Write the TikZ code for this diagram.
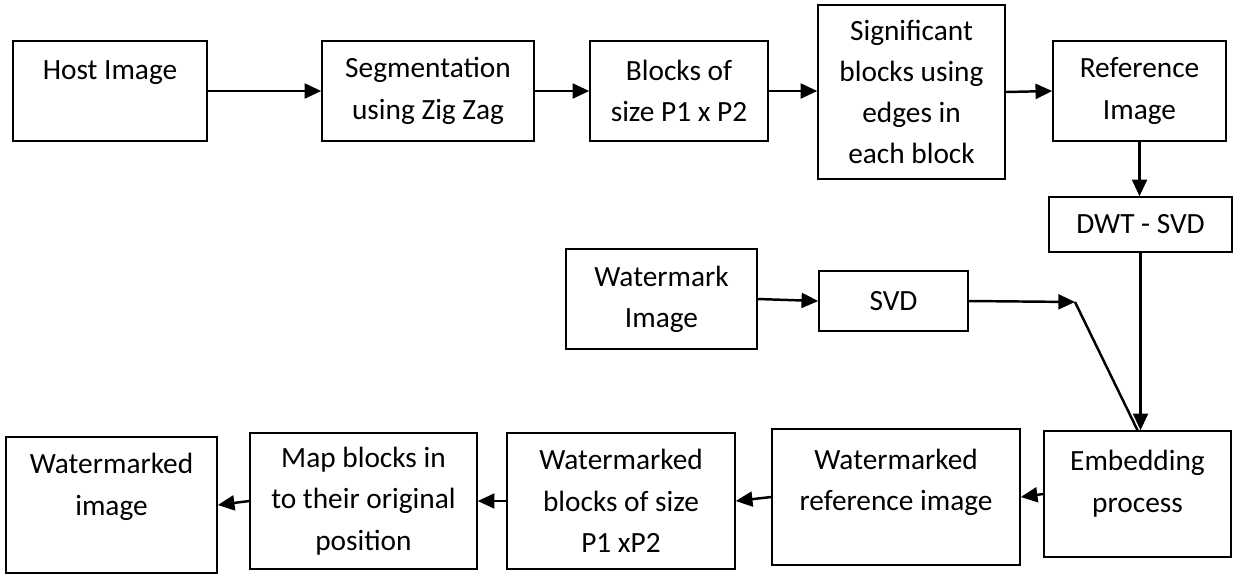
\documentclass[tikz,border=0pt]{standalone}
\usepackage{fontspec}
\setmainfont{Carlito}
\usepackage{tikz}
\usetikzlibrary{arrows.meta,positioning,calc}
\tikzstyle{arrow} = [line width=1.4pt,-{Triangle[length=9.5pt,width=8.5pt]},color=black]
\tikzstyle{link} = [line width=1.4pt,color=black]
\tikzstyle{procbox} = [rectangle, draw=black, line width=0.9pt, fill=white, align=center, inner sep=2pt, font=\fontsize{16.7}{23.5}\selectfont]

\begin{document}
\begin{tikzpicture}[x=0.02cm, y=-0.02cm]
\useasboundingbox (0,0) rectangle (1233,576);

% Top row
\node[procbox, minimum width=3.88cm, minimum height=2cm] (host) at (110,91) {Host Image\\ \mbox{}};
\node[procbox, minimum width=4.24cm, minimum height=2cm] (seg) at (428,91) {Segmentation\\ using Zig Zag};
\node[procbox, minimum width=3.56cm, minimum height=2cm] (blk) at (679,91) {Blocks of\\ size P1 x P2};
\node[procbox, minimum width=3.74cm, minimum height=3.48cm] (sig) at (911.5,92) {Significant\\ blocks using\\ edges in\\ each block};
\node[procbox, minimum width=3.46cm, minimum height=2cm] (ref) at (1139.5,91) {Reference\\ Image};

% Middle
\node[procbox, minimum width=3.66cm, minimum height=1.1cm] (dwt) at (1140.5,224.5) {DWT - SVD};
\node[procbox, minimum width=3.82cm, minimum height=2cm] (wm) at (661.5,299) {Watermark\\ Image};
\node[procbox, minimum width=2.98cm, minimum height=1.2cm] (svd) at (893.5,301) {SVD};
\coordinate (jn) at (1075,302);

% Bottom row
\node[procbox, minimum width=3.74cm, minimum height=2.52cm] (emb) at (1137.5,494) {Embedding\\ process\\[-9pt] \mbox{}};
\node[procbox, minimum width=4.96cm, minimum height=2.72cm] (wref) at (896,497) {Watermarked\\ reference image\\[-4pt] \mbox{}};
\node[procbox, minimum width=4.56cm, minimum height=2.72cm] (wblk) at (621,501) {Watermarked\\ blocks of size\\ P1 xP2};
\node[procbox, minimum width=4.54cm, minimum height=2.72cm] (map) at (363.5,501) {Map blocks in\\ to their original\\ position};
\node[procbox, minimum width=4.22cm, minimum height=2.72cm] (wimg) at (111.5,505) {Watermarked\\ image\\ \mbox{}};

% Arrows
\draw[arrow] (host.east) -- (seg.west);
\draw[arrow] (seg.east) -- (blk.west);
\draw[arrow] (blk.east) -- (blk.east -| sig.west);
\draw[arrow] (sig.east) -- (ref.west);
\draw[arrow] (ref.south) -- (ref.south |- dwt.north);
\draw[arrow] (dwt.south) -- (dwt.south |- emb.north);
\draw[arrow] (wm.east) -- (svd.west);
\draw[arrow] (svd.east) -- (jn);
\draw[link] (jn) -- (emb.north);
\draw[arrow] (emb.west) -- (wref.east);
\draw[arrow] (wref.west) -- (wblk.east);
\draw[arrow] (wblk.west) -- (map.east);
\draw[arrow] (map.west) -- (wimg.east);
\end{tikzpicture}
\end{document}
